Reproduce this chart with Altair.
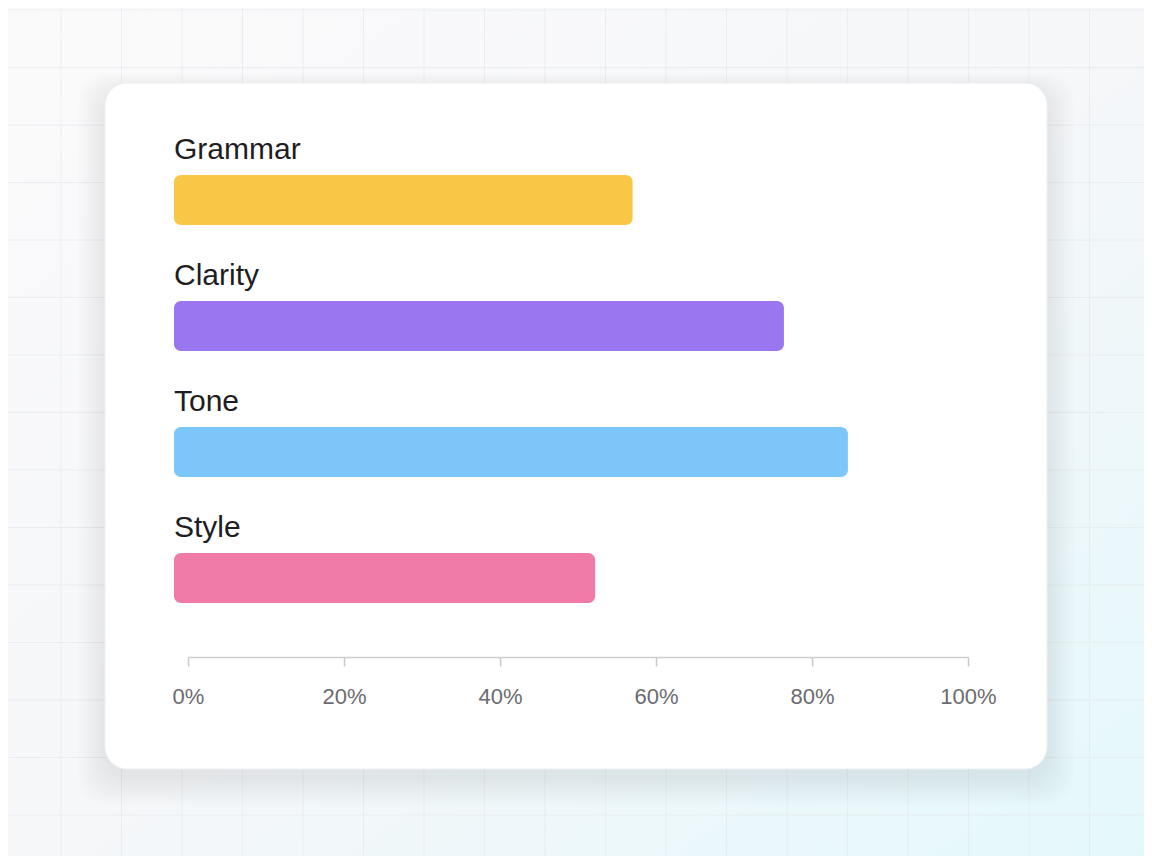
import altair as alt
import pandas as pd

# ---- data ----
names = ["Grammar", "Clarity", "Tone", "Style"]
values = [57, 76.4, 84.6, 52.2]
colors = ["#F9C646", "#9B76F1", "#7CC6FA", "#F07AA8"]
tick_values = [0, 20, 40, 60, 80, 100]

W, H = 1136, 848

bars_df = pd.DataFrame({"name": names, "value": values})

# decoration frames
vgrid = pd.DataFrame({"gx": [53 + 60.5 * k for k in range(-1, 19)]})
hgrid = pd.DataFrame({"gy": [2 + 57.5 * k for k in range(0, 15)]})
shadow = pd.DataFrame({"s": list(range(1, 19))})

xscale = alt.Scale(domain=[0, 100], range=[180, 960])
yscale = alt.Scale(type="band", domain=names, range=[167, 595], paddingInner=0.603, paddingOuter=0)

bg = alt.Chart(pd.DataFrame({"a": [0]})).mark_rect(
    fill=alt.Gradient(
        gradient="linear",
        stops=[
            alt.GradientStop(color="#fafafb", offset=0),
            alt.GradientStop(color="#f6f7f9", offset=0.5),
            alt.GradientStop(color="#e4f8fc", offset=1),
        ],
        x1=0, y1=0, x2=1, y2=1,
    )
).encode(x=alt.value(0), x2=alt.value(W), y=alt.value(0), y2=alt.value(H))

vlines = alt.Chart(vgrid).mark_rule(color="#e6e8ec", strokeWidth=1, opacity=0.7).encode(
    x=alt.X("gx:Q", scale=None), y=alt.value(0), y2=alt.value(H)
)
hlines = alt.Chart(hgrid).mark_rule(color="#e6e8ec", strokeWidth=1, opacity=0.7).encode(
    y=alt.Y("gy:Q", scale=None), x=alt.value(0), x2=alt.value(W)
)

shadow_layer = alt.Chart(shadow).transform_calculate(
    x1="97 - datum.s*1.5", x2="1039 + datum.s*1.5",
    y1="75 - datum.s*1.0 + 8", y2="761 + datum.s*1.6 + 8",
).mark_rect(color="#5a6a78", opacity=0.0075, cornerRadius=28).encode(
    x=alt.X("x1:Q", scale=None), x2="x2:Q",
    y=alt.Y("y1:Q", scale=None), y2="y2:Q",
)

card = alt.Chart(pd.DataFrame({"a": [0]})).mark_rect(
    fill="#ffffff", stroke="#eeeff2", strokeWidth=1, cornerRadius=22
).encode(x=alt.value(97), x2=alt.value(1039), y=alt.value(75), y2=alt.value(761))

bars = alt.Chart(bars_df).mark_bar(cornerRadius=7, x2Offset=-14).encode(
    x=alt.X(
        "value:Q",
        scale=xscale,
        axis=alt.Axis(
            values=tick_values,
            labelExpr="datum.value + '%'",
            orient="bottom",
            offset=-199,
            zindex=2,
            title=None,
            grid=False,
            domainColor="#cfcfd2",
            domainWidth=1.5,
            tickColor="#c9c9cc",
            tickWidth=1.5,
            tickSize=9,
            labelFont="Liberation Sans",
            labelFontSize=22,
            labelColor="#6b6b70",
            labelPadding=20,
            labelFlush=False,
        ),
    ),
    x2=alt.datum(0),
    y=alt.Y("name:N", sort=names, scale=yscale, axis=None),
    color=alt.Color("name:N", scale=alt.Scale(domain=names, range=colors), legend=None),
)

labels = alt.Chart(bars_df).transform_calculate(zero="0").mark_text(
    align="left", baseline="alphabetic", dx=-14, dy=-41,
    font="Liberation Sans", fontSize=30, color="#1d1d22",
).encode(
    x=alt.X("zero:Q", scale=xscale, axis=None),
    y=alt.Y("name:N", sort=names, scale=yscale, axis=None),
    text="name:N",
)

chart = alt.layer(bg, vlines, hlines, shadow_layer, card, bars, labels).resolve_scale(
    x="independent", y="independent", color="independent"
).properties(
    width=W, height=H, autosize=alt.AutoSizeParams(type="none"), padding=0
).configure_view(stroke=None)

chart.save("out.html", embed_options={"renderer": "svg", "actions": False})
